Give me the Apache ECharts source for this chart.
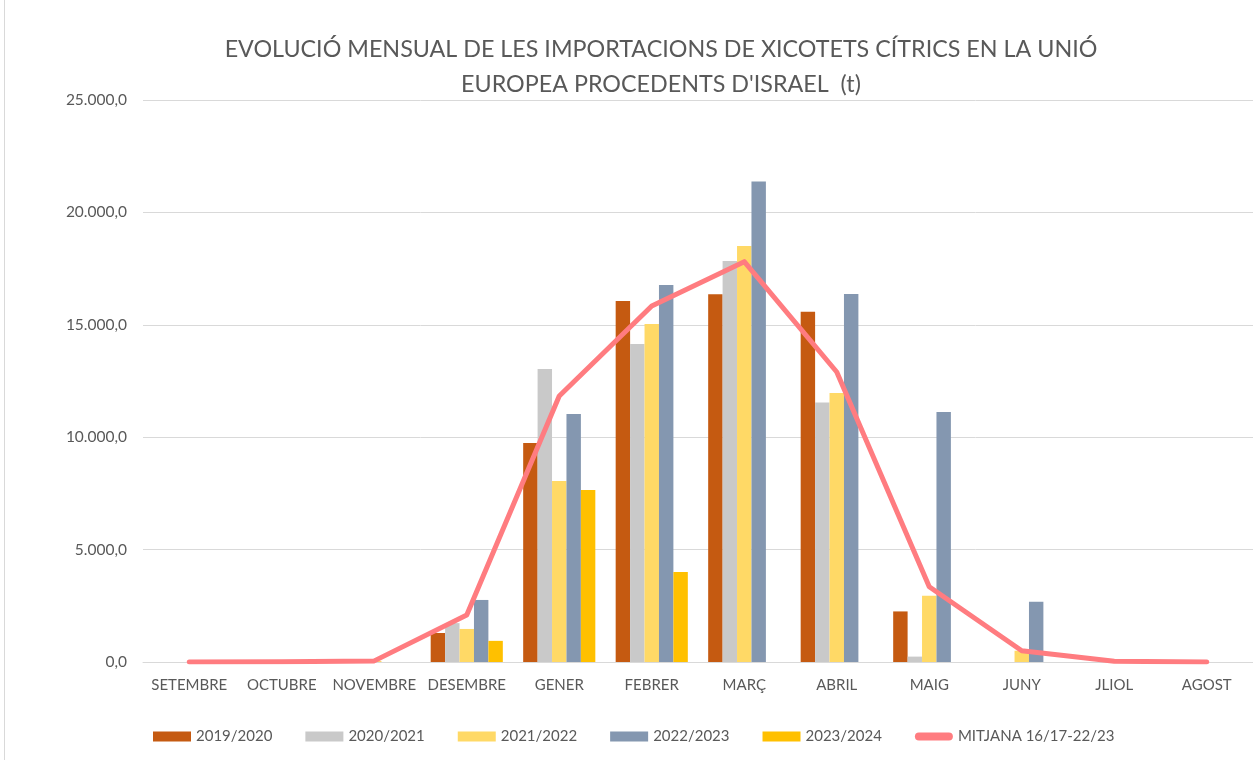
<!DOCTYPE html>
<html>
<head>
<meta charset="utf-8">
<script src="https://cdn.jsdelivr.net/npm/echarts@6/dist/echarts.min.js"></script>
<style>
  html, body { margin: 0; padding: 0; background: #fff; }
  #chart { width: 1253px; height: 760px; }
</style>
</head>
<body>
<div id="chart"></div>
<script>
const months = ['SETEMBRE', 'OCTUBRE', 'NOVEMBRE', 'DESEMBRE', 'GENER', 'FEBRER', 'MARÇ', 'ABRIL', 'MAIG', 'JUNY', 'JLIOL', 'AGOST']

const s2019 = [0, 0, 0, 1290, 9740, 16060, 16360, 15580, 2250, 0, 0, 0]
const s2020 = [0, 0, 30, 1730, 13030, 14150, 17840, 11540, 240, 0, 0, 0]
const s2021 = [0, 0, 50, 1470, 8050, 15040, 18500, 11970, 2950, 500, 0, 0]
const s2022 = [0, 0, 0, 2760, 11030, 16770, 21380, 16370, 11120, 2680, 0, 0]
const s2023 = [0, 0, 0, 940, 7650, 4000, null, null, null, null, null, null]
const mitjana = [0, 10, 50, 2090, 11830, 15840, 17810, 12900, 3350, 500, 30, 0]

const yTicks = { min: 0, max: 25000, interval: 5000 }

const fmt = v => Math.round(v).toString().replace(/\B(?=(\d{3})+(?!\d))/g, '.') + ',0'

const chart = echarts.init(document.getElementById('chart'))

const font = 'Lato, "Open Sans", sans-serif'

const barSeries = (name, data, color) => ({
  name,
  type: 'bar',
  data,
  barGap: '0%',
  barCategoryGap: '22%',
  itemStyle: { color }
})

const option = {
  animation: false,
  textStyle: { fontFamily: font },
  title: {
    text: "EVOLUCIÓ MENSUAL DE LES IMPORTACIONS DE XICOTETS CÍTRICS EN LA UNIÓ\nEUROPEA PROCEDENTS D'ISRAEL  (t)",
    left: 656,
    textAlign: 'center',
    top: 27,
    textStyle: {
      color: '#595959',
      fontSize: 23.3,
      fontWeight: 'normal',
      lineHeight: 35,
      fontFamily: font
    }
  },
  grid: { left: 143, right: 0, top: 100, bottom: 98 },
  legend: {
    left: 153,
    top: 729,
    padding: 0,
    itemWidth: 38,
    itemHeight: 10,
    itemGap: 33,
    textStyle: { color: '#595959', fontSize: 15 },
    data: [
      { name: '2019/2020', icon: 'rect' },
      { name: '2020/2021', icon: 'rect' },
      { name: '2021/2022', icon: 'rect' },
      { name: '2022/2023', icon: 'rect' },
      { name: '2023/2024', icon: 'rect' },
      { name: 'MITJANA 16/17-22/23', icon: 'path://M4,0 L34,0 A4,4 0 0 1 34,8 L4,8 A4,4 0 0 1 4,0 Z' }
    ]
  },
  xAxis: {
    type: 'category',
    data: months,
    axisLine: { lineStyle: { color: '#d9d9d9', width: 1 } },
    axisTick: { show: false },
    axisLabel: { color: '#595959', fontSize: 15, margin: 16, interval: 0 }
  },
  yAxis: {
    type: 'value',
    min: yTicks.min,
    max: yTicks.max,
    interval: yTicks.interval,
    axisLine: { show: false },
    axisTick: { show: false },
    axisLabel: { color: '#595959', fontSize: 15.5, margin: 16, formatter: fmt },
    splitLine: { lineStyle: { color: '#d9d9d9', width: 1 } }
  },
  graphic: [
    {
      type: 'line',
      shape: { x1: 4.5, y1: 0, x2: 4.5, y2: 760 },
      style: { stroke: '#d9d9d9', lineWidth: 1 }
    }
  ],
  series: [
    barSeries('2019/2020', s2019, '#C55A11'),
    barSeries('2020/2021', s2020, '#C9C9C9'),
    barSeries('2021/2022', s2021, '#FFD966'),
    barSeries('2022/2023', s2022, '#8497B0'),
    barSeries('2023/2024', s2023, '#FFC000'),
    {
      name: 'MITJANA 16/17-22/23',
      type: 'line',
      data: mitjana,
      symbol: 'none',
      lineStyle: { color: '#FF7C80', width: 5, cap: 'round', join: 'round' },
      itemStyle: { color: '#FF7C80' },
      z: 5
    }
  ]
}

chart.setOption(option)
</script>
</body>
</html>
